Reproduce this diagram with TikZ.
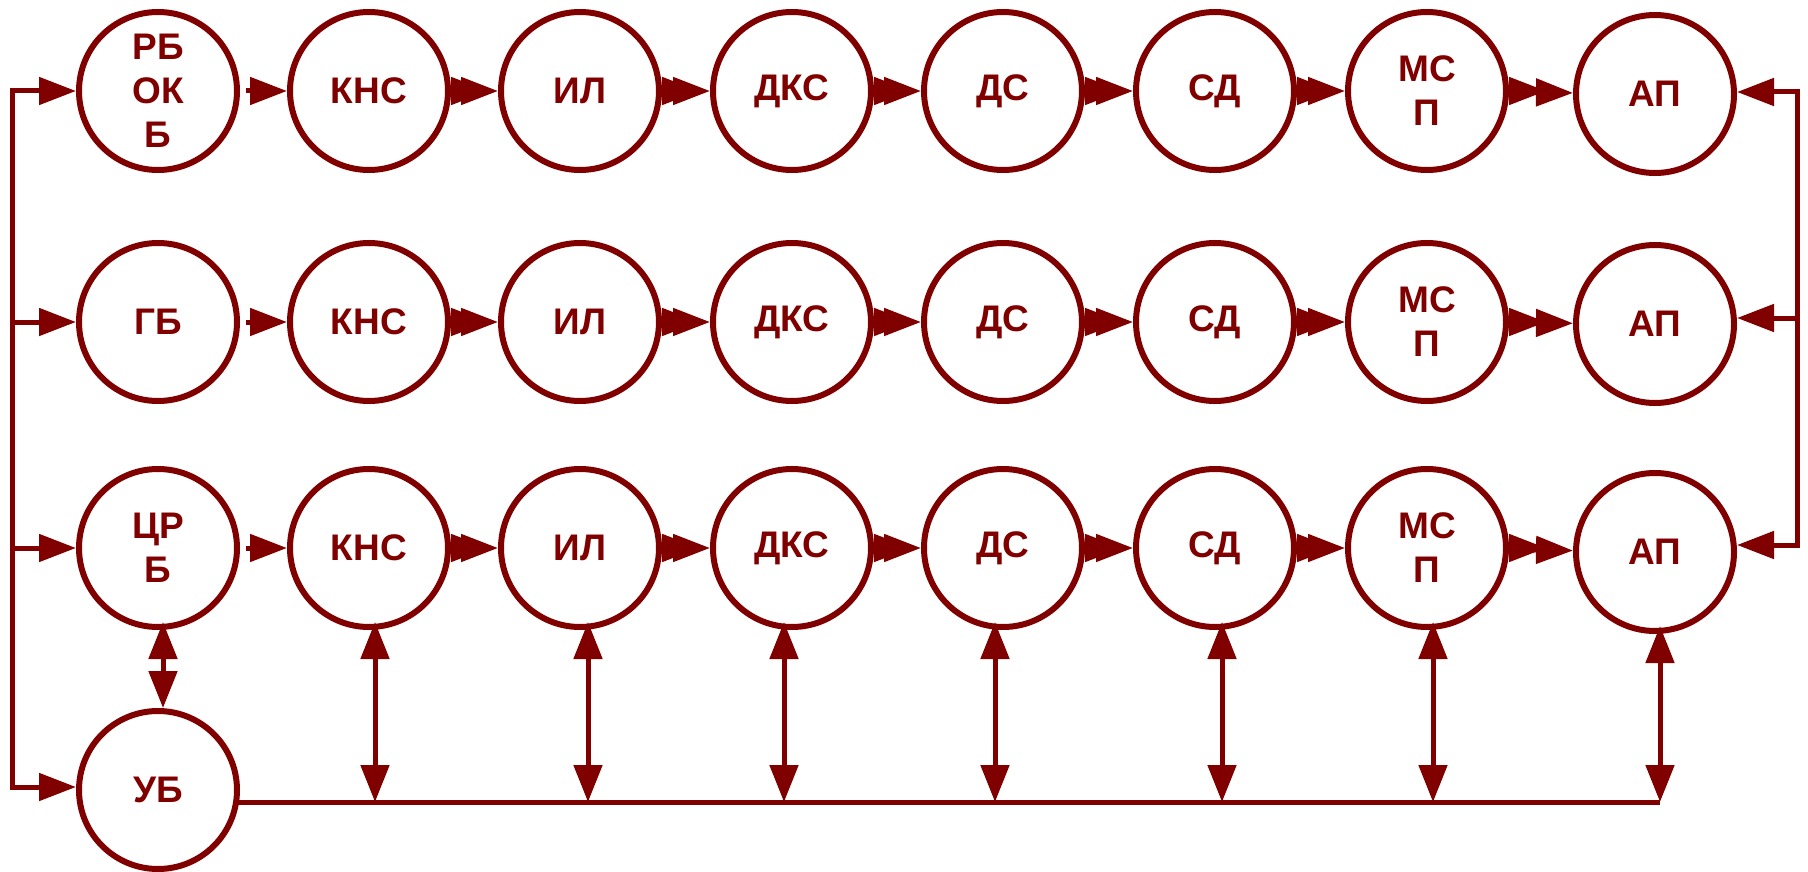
\documentclass[tikz,border=0pt]{standalone}
\usepackage{fontspec}
\setmainfont{Liberation Sans}
\usetikzlibrary{arrows.meta,calc}
\definecolor{mr}{HTML}{800000}
\begin{document}
\begin{tikzpicture}[x=1pt,y=-1pt,
  blk/.style={circle,draw=mr,line width=6pt,minimum size=158pt,inner sep=0pt,text=mr,
    font=\fontsize{37}{44}\selectfont\bfseries,align=center},
  con/.style={draw=mr,line width=5pt},
  tipA/.style={con,-{Triangle[length=37pt,width=27pt]}},
  dbl/.style={con,{Triangle[length=37pt,width=28pt]}-{Triangle[length=37pt,width=28pt]}}]
\useasboundingbox (0,0) rectangle (1808,872);

% row 1
\node[blk] (a1) at (158,91) {РБ\\ОК\\Б};
\node[blk] (a2) at (369,91) {КНС};
\node[blk] (a3) at (580,91) {ИЛ};
\node[blk] (a4) at (792,91) {ДКС};
\node[blk] (a5) at (1003,91) {ДС};
\node[blk] (a6) at (1215,91) {СД};
\node[blk] (a7) at (1427,91) {МС\\П};
\node[blk] (a8) at (1655,94) {АП};
% row 2
\node[blk] (b1) at (158,322) {ГБ};
\node[blk] (b2) at (369,322) {КНС};
\node[blk] (b3) at (580,322) {ИЛ};
\node[blk] (b4) at (792,322) {ДКС};
\node[blk] (b5) at (1003,322) {ДС};
\node[blk] (b6) at (1215,322) {СД};
\node[blk] (b7) at (1427,322) {МС\\П};
\node[blk] (b8) at (1655,324) {АП};
% row 3
\node[blk] (c1) at (158,548) {ЦР\\Б};
\node[blk] (c2) at (369,548) {КНС};
\node[blk] (c3) at (580,548) {ИЛ};
\node[blk] (c4) at (792,548) {ДКС};
\node[blk] (c5) at (1003,548) {ДС};
\node[blk] (c6) at (1215,548) {СД};
\node[blk] (c7) at (1427,548) {МС\\П};
\node[blk] (c8) at (1655,552) {АП};
% bottom
\node[blk] (ub) at (158,790) {УБ};

% horizontal chains
\foreach \r in {a,b,c}{
  \draw[tipA] ([xshift=6pt]\r1.east) -- (\r2);
  \foreach \i/\j in {2/3,3/4,4/5,5/6,6/7,7/8}{
    \draw[tipA] (\r\i.east) -- ([xshift=37pt]\r\i.east);
    \draw[tipA] (\r\i) -- (\r\j);
  }
}

% left bus
\coordinate (L1) at (12,91);
\coordinate (L2) at (12,322);
\coordinate (L3) at (12,548);
\coordinate (L4) at (12,787);
\draw[con,line cap=rect] (L1) -- (L4);
\draw[tipA] (L1) -- (a1);
\draw[tipA] (L2) -- (b1);
\draw[tipA] (L3) -- (c1);
\draw[tipA] (L4) -- (L4 -| ub.west);

% right bus
\coordinate (R1) at (1797,92);
\coordinate (R2) at (1797,318);
\coordinate (R3) at (1797,545);
\draw[con,line cap=rect] (R1) -- (R3);
\draw[tipA] (R1) -- (R1 -| a8.east);
\draw[tipA] (R2) -- (R2 -| b8.east);
\draw[tipA] (R3) -- (R3 -| c8.east);

% bottom bus
\coordinate (B0) at (238,802);
\coordinate (B8) at (1660,802);
\draw[con] (B0) -- (B8);
\foreach \i/\x in {2/375,3/588,4/784,5/995,6/1222,7/1433,8/1660}{
  \coordinate (B\i) at (\x,802);
  \coordinate (T\i) at ([yshift=8pt]c\i.south -| B\i);
  \draw[dbl] (B\i) -- (T\i);
}
\draw[dbl] ([xshift=5pt,yshift=8pt]c1.south) -- ([xshift=5pt]ub.north);
\end{tikzpicture}
\end{document}
